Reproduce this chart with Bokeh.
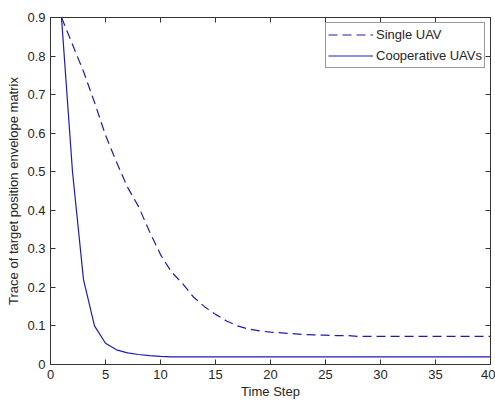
from bokeh.plotting import figure
from bokeh.models import LinearAxis, Range1d, FixedTicker, CustomJSTickFormatter, Legend, LegendItem
from bokeh.embed import file_html
from bokeh.resources import INLINE

time_step = list(range(1, 41))
single_uav = [0.90, 0.83, 0.76, 0.68, 0.595, 0.525, 0.46, 0.41, 0.345, 0.285,
              0.24, 0.21, 0.175, 0.15, 0.13, 0.113, 0.10, 0.092, 0.087, 0.084,
              0.082, 0.080, 0.078, 0.077, 0.076, 0.075, 0.075, 0.073, 0.073, 0.073,
              0.073, 0.073, 0.073, 0.073, 0.073, 0.073, 0.073, 0.073, 0.073, 0.073]
coop_uavs = [0.90, 0.50, 0.22, 0.10, 0.055, 0.038, 0.030, 0.026, 0.023, 0.021,
             0.020, 0.020, 0.020, 0.020, 0.020, 0.020, 0.020, 0.020, 0.020, 0.020,
             0.020, 0.020, 0.020, 0.020, 0.020, 0.020, 0.020, 0.020, 0.020, 0.020,
             0.020, 0.020, 0.020, 0.020, 0.020, 0.020, 0.020, 0.020, 0.020, 0.020]
x_ticks = [0, 5, 10, 15, 20, 25, 30, 35, 40]
y_ticks = [0, 0.1, 0.2, 0.3, 0.4, 0.5, 0.6, 0.7, 0.8, 0.9]
series_names = ["Single UAV", "Cooperative UAVs"]
x_label = "Time Step"
y_label = "Trace of target position envelope matrix"

FONT = "Liberation Sans"
AX = "#333333"
TXT = "#262626"
LINE = "#1c1cb4"

p = figure(frame_width=440, frame_height=347, output_backend="svg", toolbar_location=None,
           x_range=Range1d(0, 40), y_range=Range1d(0, 0.9),
           min_border_left=50, min_border_right=5, min_border_top=17, min_border_bottom=37)
p.grid.visible = False
p.outline_line_color = AX
p.background_fill_color = "white"
p.border_fill_color = "white"

yfmt = CustomJSTickFormatter(code="var s = tick.toFixed(1); return s === '0.0' ? '0' : s;")
blank = CustomJSTickFormatter(code="return '';")

for ax in p.xaxis:
    ax.ticker = FixedTicker(ticks=x_ticks)
    ax.axis_label = x_label
for ax in p.yaxis:
    ax.ticker = FixedTicker(ticks=y_ticks)
    ax.formatter = yfmt
    ax.axis_label = y_label

for ax in list(p.xaxis) + list(p.yaxis):
    ax.axis_line_color = AX
    ax.major_tick_line_color = AX
    ax.major_tick_in = 5
    ax.major_tick_out = 0
    ax.minor_tick_line_color = None
    ax.major_label_text_font = FONT
    ax.major_label_text_font_size = "13px"
    ax.major_label_text_color = TXT
    ax.axis_label_text_font = FONT
    ax.axis_label_text_font_size = "13px"
    ax.axis_label_text_font_style = "normal"
    ax.axis_label_text_color = TXT
    ax.major_label_standoff = 5

p.yaxis[0].axis_label_standoff = 3
p.xaxis[0].axis_label_standoff = 2

# box axes (ticks on top and right, no labels)
top = LinearAxis(ticker=FixedTicker(ticks=x_ticks), formatter=blank,
                 major_tick_in=5, major_tick_out=0, minor_tick_line_color=None,
                 axis_line_color=AX, major_tick_line_color=AX, major_label_standoff=0)
right = LinearAxis(ticker=FixedTicker(ticks=y_ticks), formatter=blank,
                   major_tick_in=5, major_tick_out=0, minor_tick_line_color=None,
                   axis_line_color=AX, major_tick_line_color=AX, major_label_standoff=0)
p.add_layout(top, "above")
p.add_layout(right, "right")

r1 = p.line(time_step, single_uav, line_color=LINE, line_width=1.2, line_dash="9 5")
r2 = p.line(time_step, coop_uavs, line_color=LINE, line_width=1.2)

legend = Legend(items=[LegendItem(label=series_names[0], renderers=[r1]),
                       LegendItem(label=series_names[1], renderers=[r2])],
                location="top_right")
legend.border_line_color = AX
legend.border_line_width = 1
legend.background_fill_color = "white"
legend.background_fill_alpha = 1
legend.label_text_font = FONT
legend.label_text_font_size = "13px"
legend.label_text_color = TXT
legend.glyph_width = 45
legend.glyph_height = 19
legend.label_height = 19
legend.label_standoff = 3
legend.spacing = 2
legend.padding = 2
legend.margin = 5
p.add_layout(legend, "center")

open("out.html", "w").write(file_html(p, INLINE))
